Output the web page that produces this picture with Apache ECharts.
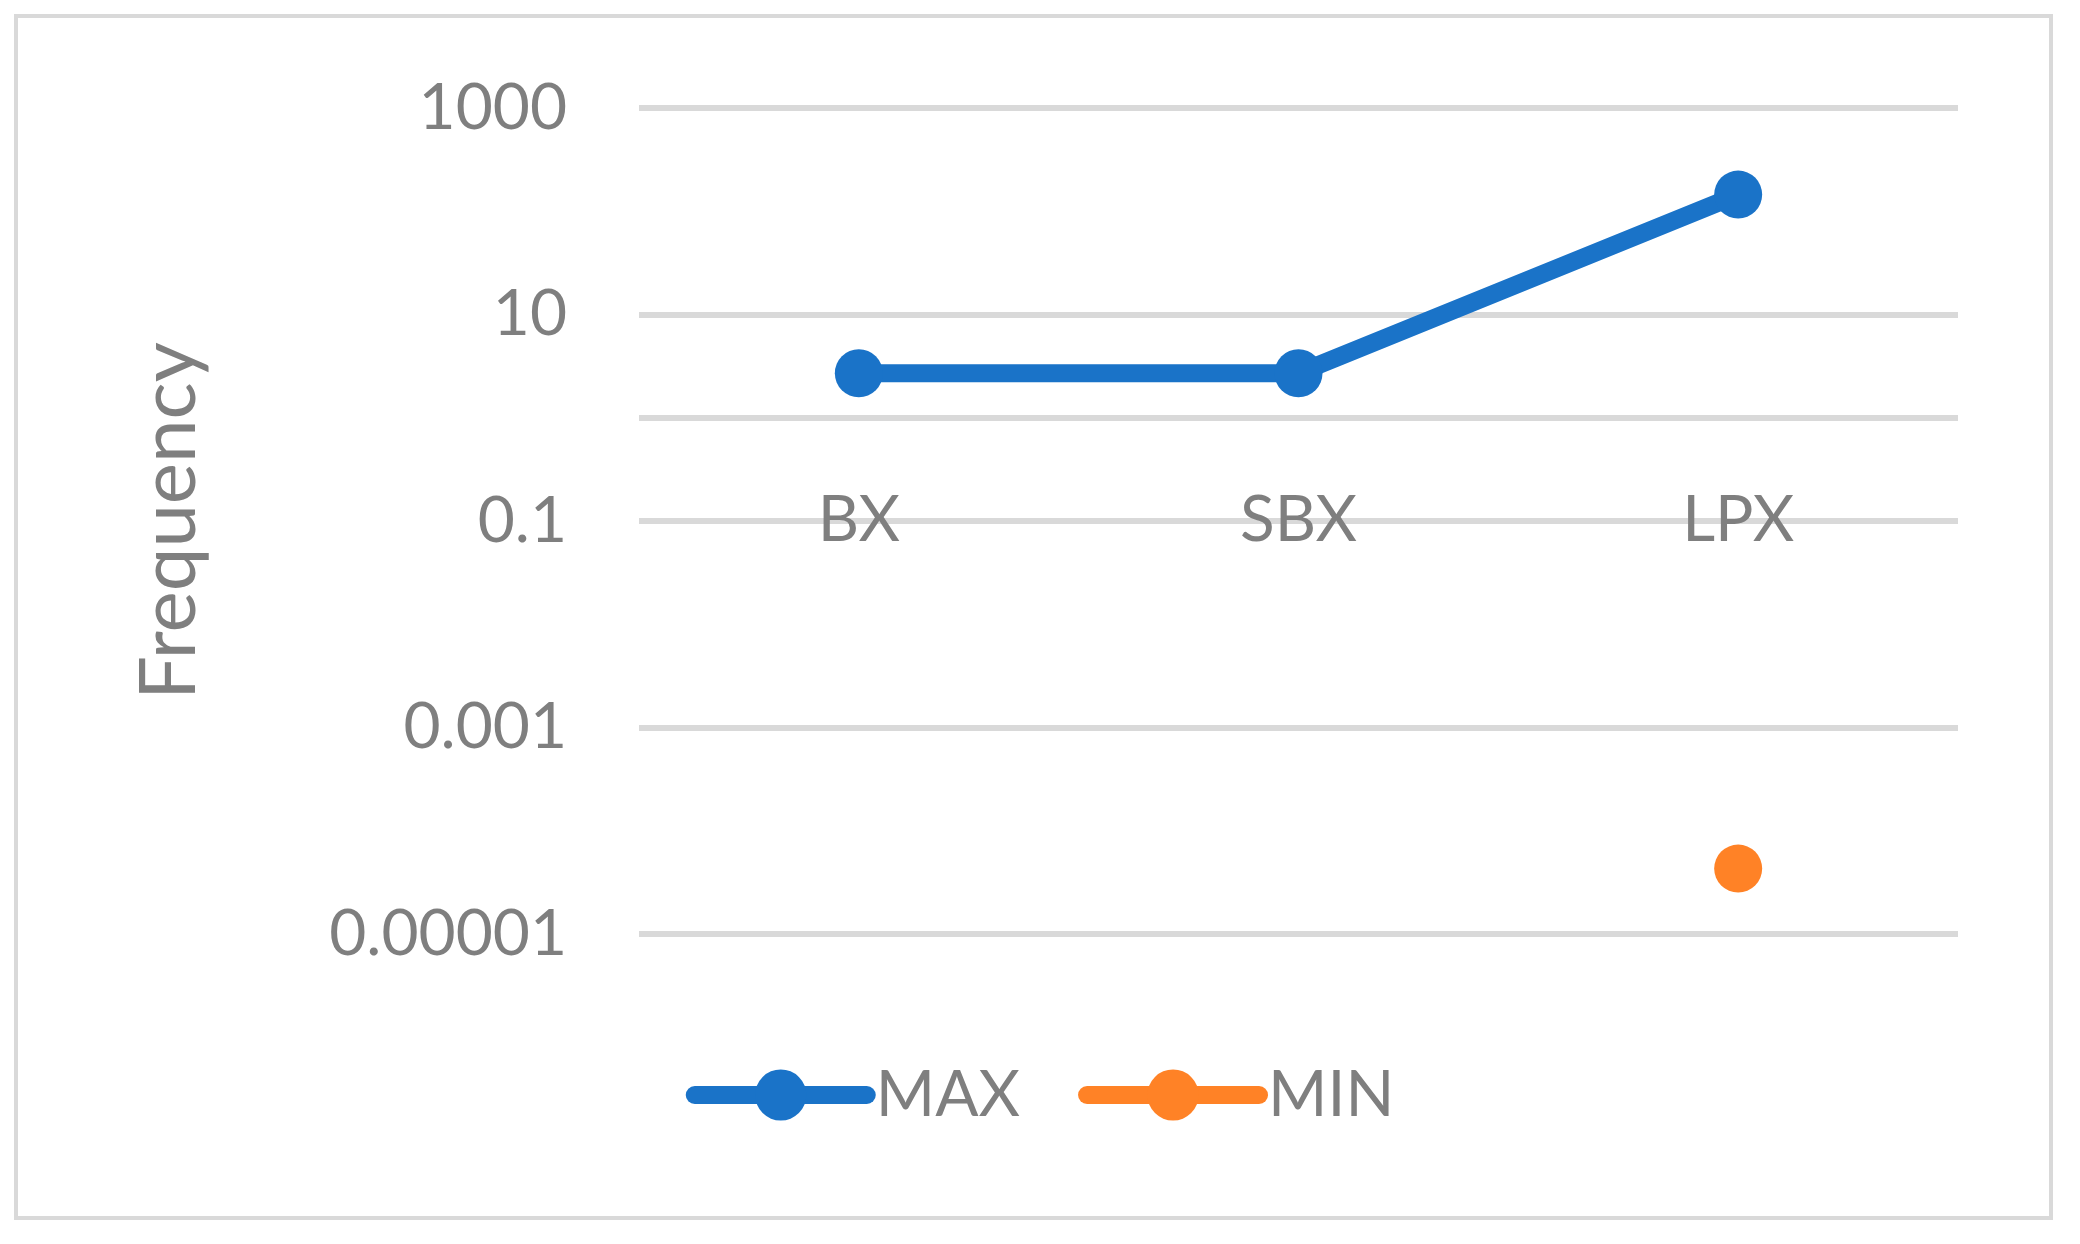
<!DOCTYPE html>
<html>
<head>
<meta charset="utf-8">
<script src="https://cdn.jsdelivr.net/npm/echarts@6/dist/echarts.min.js"></script>
<style>
  html, body { margin: 0; padding: 0; background: #fff; }
  #chart { width: 2080px; height: 1244px; }
</style>
</head>
<body>
<div id="chart"></div>
<script>
var categories = ['BX', 'SBX', 'LPX'];
var maxData = [2.7, 2.7, 145];
var minData = ['-', '-', 0.000043];

var textColor = '#7f7f7f';
var gridColor = '#d9d9d9';
var fontName = 'Lato';

var dom = document.getElementById('chart');
var chart = echarts.init(dom, null, { width: 2080, height: 1244 });

var option = {
    backgroundColor: '#fff',
    animation: false,
    textStyle: { fontFamily: fontName },
    graphic: [{
        type: 'rect',
        shape: { x: 16, y: 16, width: 2035, height: 1202 },
        style: { fill: 'none', stroke: gridColor, lineWidth: 4 },
        z: -1
    }],
    grid: {
        left: 639,
        right: 122,
        top: 108,
        bottom: 310,
        containLabel: false
    },
    legend: {
        data: ['MAX', 'MIN'],
        left: 'center',
        top: 1058,
        itemWidth: 172,
        itemHeight: 64,
        itemGap: 58,
        lineStyle: { width: 18, cap: 'round' },
        textStyle: { color: textColor, fontSize: 64, fontFamily: fontName, padding: [0, 0, 0, 4] }
    },
    xAxis: {
        type: 'category',
        data: categories,
        boundaryGap: true,
        offset: -516,
        axisLine: { show: true, lineStyle: { color: gridColor, width: 6, cap: 'butt' } },
        axisTick: { show: false },
        axisLabel: { color: textColor, fontSize: 64, margin: 70, fontFamily: fontName },
        splitLine: { show: false }
    },
    yAxis: {
        type: 'log',
        logBase: 10,
        min: 0.00001,
        max: 1000,
        interval: 2,
        name: 'Frequency',
        nameLocation: 'middle',
        nameGap: 430,
        nameTextStyle: { color: textColor, fontSize: 78, fontFamily: fontName },
        axisLine: { show: false },
        axisTick: { show: false },
        axisLabel: {
            color: textColor,
            fontSize: 64,
            margin: 72,
            fontFamily: fontName,
            formatter: function (v) { return String(+v.toPrecision(3)); }
        },
        splitLine: { show: true, lineStyle: { color: gridColor, width: 6 } }
    },
    series: [
        {
            name: 'MAX',
            type: 'line',
            data: maxData,
            symbol: 'circle',
            symbolSize: 48,
            color: '#1a73c8',
            lineStyle: { width: 18, color: '#1a73c8', cap: 'round' },
            itemStyle: { color: '#1a73c8' }
        },
        {
            name: 'MIN',
            type: 'line',
            data: minData,
            symbol: 'circle',
            symbolSize: 48,
            color: '#ff8226',
            lineStyle: { width: 18, color: '#ff8226', cap: 'round' },
            itemStyle: { color: '#ff8226' }
        }
    ]
};

chart.setOption(option);
</script>
</body>
</html>
